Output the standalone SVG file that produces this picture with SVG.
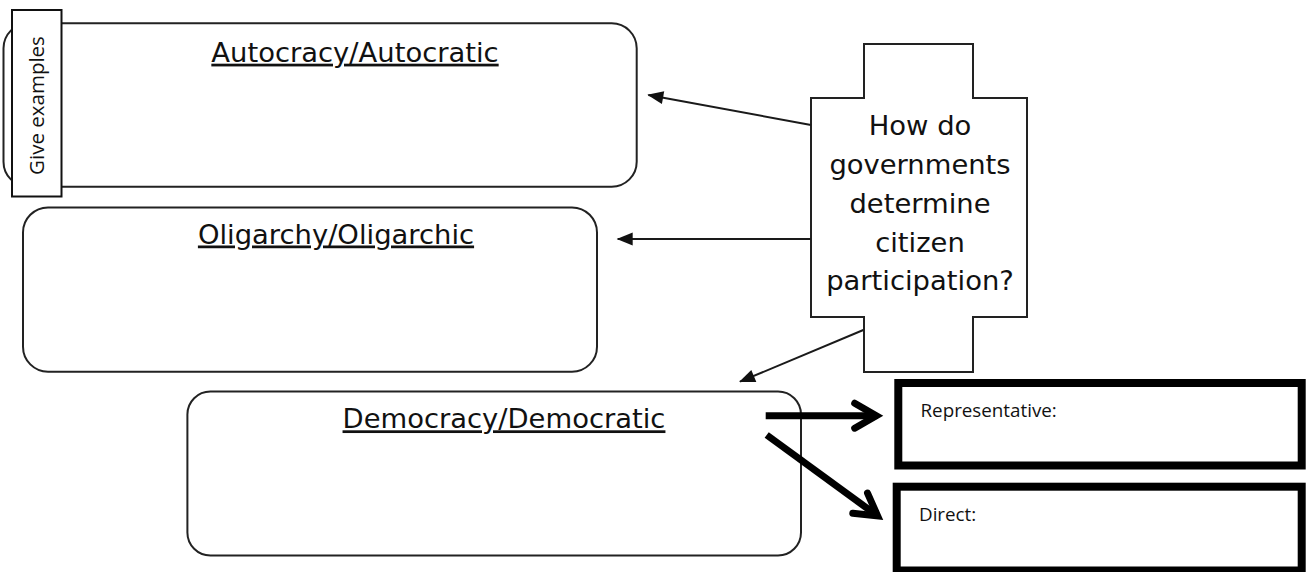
<svg xmlns="http://www.w3.org/2000/svg" width="1306" height="572" viewBox="0 0 1306 572">
  <style>
    .box { fill: #fff; stroke: #222; stroke-width: 2; }
    .title { font-family: "DejaVu Sans", Verdana, sans-serif; font-size: 27.4px; fill: #111; text-anchor: middle; text-decoration: underline; }
    .question { font-family: "DejaVu Sans", Verdana, sans-serif; font-size: 27.4px; fill: #111; text-anchor: middle; }
    .label { font-family: "Open Sans", "Liberation Sans", sans-serif; font-size: 18.8px; fill: #111; }
    .tab { font-family: "Open Sans", "Liberation Sans", sans-serif; font-size: 20.5px; fill: #111; text-anchor: middle; }
    .heavy { fill: #fff; stroke: #000; stroke-width: 8; }
    .thin { fill: none; stroke: #1a1a1a; stroke-width: 2; marker-end: url(#tri); }
    .thick { fill: none; stroke: #000; stroke-width: 7; marker-end: url(#chev); }
  </style>
  <defs>
    <!-- small filled head for the thin connectors -->
    <marker id="tri" markerUnits="userSpaceOnUse" markerWidth="30" markerHeight="30" refX="0" refY="0" orient="auto" overflow="visible">
      <path d="M1,0 L-15,-6.5 L-15,6.5 Z" fill="#111"/>
    </marker>
    <!-- open chevron head for the heavy connectors -->
    <marker id="chev" markerUnits="userSpaceOnUse" markerWidth="40" markerHeight="40" refX="0" refY="0" orient="auto" overflow="visible">
      <path d="M-21.6,-12.5 L0,0 L-21.6,12.5" fill="none" stroke="#000" stroke-width="7" stroke-linecap="round" stroke-linejoin="miter"/>
    </marker>
  </defs>
  <rect width="1306" height="572" fill="#fff"/>

  <g id="autocracy">
    <rect class="box" x="3.5" y="23.3" width="633.2" height="163.4" rx="25"/>
    <text class="title" x="355" y="61.7">Autocracy/Autocratic</text>
  </g>

  <g id="give-examples">
    <rect x="12" y="10" width="49.5" height="186.5" fill="#fff" stroke="#111" stroke-width="2"/>
    <text class="tab" transform="translate(44,105.5) rotate(-90)">Give examples</text>
  </g>

  <g id="oligarchy">
    <rect class="box" x="23" y="207.5" width="574" height="164.2" rx="25"/>
    <text class="title" x="336" y="243.5">Oligarchy/Oligarchic</text>
  </g>

  <g id="democracy">
    <rect class="box" x="187.4" y="391.5" width="613.6" height="164" rx="23"/>
    <text class="title" x="504" y="428.3">Democracy/Democratic</text>
  </g>

  <g id="question">
    <polygon class="box" points="864,44 973,44 973,98 1027,98 1027,317 973,317 973,372 864,372 864,317 811,317 811,98 864,98"/>
    <text class="question" x="920" y="135">How do</text>
    <text class="question" x="920" y="174">governments</text>
    <text class="question" x="920" y="213">determine</text>
    <text class="question" x="920" y="252">citizen</text>
    <text class="question" x="920" y="290">participation?</text>
  </g>

  <g id="representative">
    <rect class="heavy" x="898.3" y="383" width="403.4" height="82.5"/>
    <text class="label" x="920.5" y="416.7">Representative:</text>
  </g>

  <g id="direct">
    <rect class="heavy" x="896.7" y="486.7" width="405" height="83.8"/>
    <text class="label" x="919" y="520.7">Direct:</text>
  </g>

  <g id="connectors">
    <line class="thin" x1="811" y1="125" x2="648.3" y2="95"/>
    <line class="thin" x1="811" y1="239" x2="617.7" y2="239"/>
    <line class="thin" x1="863.3" y1="330" x2="740" y2="381.7"/>
    <line class="thick" x1="765.7" y1="415.7" x2="876.3" y2="415.7"/>
    <line class="thick" x1="766.7" y1="435" x2="877.6" y2="515.9"/>
  </g>
</svg>
